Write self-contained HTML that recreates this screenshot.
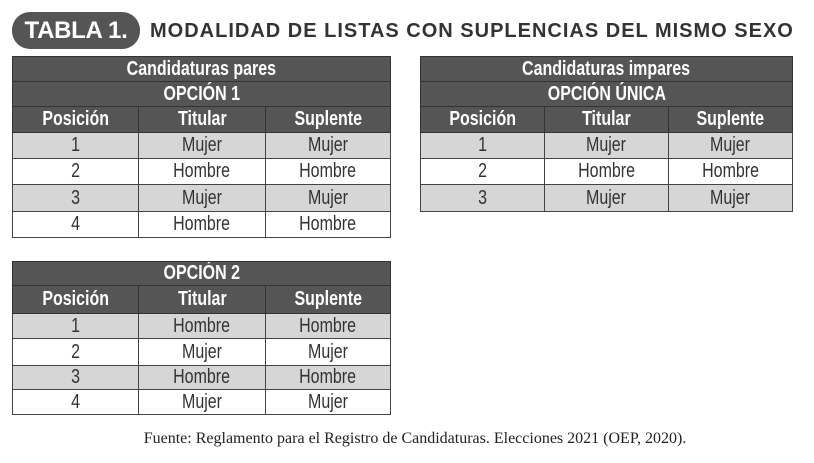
<!DOCTYPE html>
<html><head><meta charset="utf-8"><style>
body{margin:0;width:814px;height:463px;background:#fff;position:relative;overflow:hidden;font-family:"Liberation Sans",sans-serif}
.pill{position:absolute;left:12px;top:12px;width:128px;height:37px;border-radius:18px;background:#555;color:#fff;font:bold 24px "Liberation Sans",sans-serif;line-height:37px;text-align:center;letter-spacing:-0.3px}
.title{position:absolute;left:150px;top:20px;font:bold 20px "Liberation Sans",sans-serif;color:#333;letter-spacing:1px;white-space:nowrap}
table{position:absolute;border-collapse:collapse;table-layout:fixed}
td{border:1px solid #444;text-align:center;padding:0;font-size:20px;color:#333;white-space:nowrap;overflow:hidden}
td span{display:inline-block;transform:scaleX(0.8)}
tr.h td{background:#555;color:#fff;font-weight:bold;border-color:#333}
tr.g td{background:#d6d6d6}
.foot{position:absolute;left:0;width:830px;top:430px;text-align:center;font:16px "Liberation Serif",serif;color:#222}
</style></head><body>
<div class="pill">TABLA 1.</div>
<div class="title">MODALIDAD DE LISTAS CON SUPLENCIAS DEL MISMO SEXO</div>

<table style="left:12px;top:56px;width:378px">
<colgroup><col style="width:126px"><col style="width:127px"><col style="width:125px"></colgroup>
<tr class="h" style="height:25px"><td colspan="3"><span>Candidaturas pares</span></td></tr>
<tr class="h" style="height:25px"><td colspan="3"><span>OPCIÓN 1</span></td></tr>
<tr class="h" style="height:26px"><td><span>Posición</span></td><td><span>Titular</span></td><td><span>Suplente</span></td></tr>
<tr class="g" style="height:26px"><td><span>1</span></td><td><span>Mujer</span></td><td><span>Mujer</span></td></tr>
<tr style="height:26px"><td><span>2</span></td><td><span>Hombre</span></td><td><span>Hombre</span></td></tr>
<tr class="g" style="height:27px"><td><span>3</span></td><td><span>Mujer</span></td><td><span>Mujer</span></td></tr>
<tr style="height:26px"><td><span>4</span></td><td><span>Hombre</span></td><td><span>Hombre</span></td></tr>
</table>

<table style="left:420px;top:56px;width:372px">
<colgroup><col style="width:124px"><col style="width:124px"><col style="width:124px"></colgroup>
<tr class="h" style="height:25px"><td colspan="3"><span>Candidaturas impares</span></td></tr>
<tr class="h" style="height:25px"><td colspan="3"><span>OPCIÓN ÚNICA</span></td></tr>
<tr class="h" style="height:26px"><td><span>Posición</span></td><td><span>Titular</span></td><td><span>Suplente</span></td></tr>
<tr class="g" style="height:26px"><td><span>1</span></td><td><span>Mujer</span></td><td><span>Mujer</span></td></tr>
<tr style="height:26px"><td><span>2</span></td><td><span>Hombre</span></td><td><span>Hombre</span></td></tr>
<tr class="g" style="height:27px"><td><span>3</span></td><td><span>Mujer</span></td><td><span>Mujer</span></td></tr>
</table>

<table style="left:12px;top:261px;width:378px">
<colgroup><col style="width:126px"><col style="width:127px"><col style="width:125px"></colgroup>
<tr class="h" style="height:22px"><td colspan="3"><span>OPCIÓN 2</span></td></tr>
<tr class="h" style="height:28px"><td><span>Posición</span></td><td><span>Titular</span></td><td><span>Suplente</span></td></tr>
<tr class="g" style="height:25px"><td><span>1</span></td><td><span>Hombre</span></td><td><span>Hombre</span></td></tr>
<tr style="height:27px"><td><span>2</span></td><td><span>Mujer</span></td><td><span>Mujer</span></td></tr>
<tr class="g" style="height:24px"><td><span>3</span></td><td><span>Hombre</span></td><td><span>Hombre</span></td></tr>
<tr style="height:25px"><td><span>4</span></td><td><span>Mujer</span></td><td><span>Mujer</span></td></tr>
</table>

<div class="foot">Fuente: Reglamento para el Registro de Candidaturas. Elecciones 2021 (OEP, 2020).</div>
</body></html>
